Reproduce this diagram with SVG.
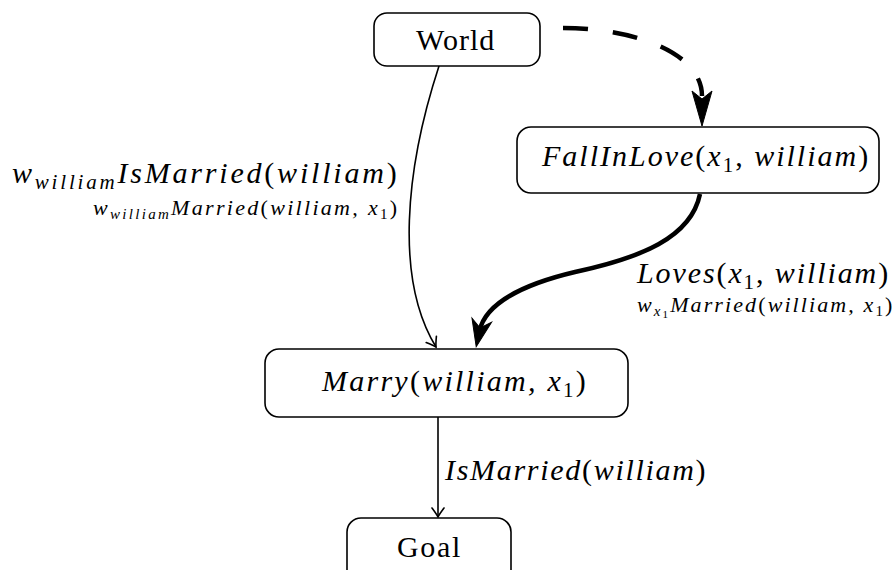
<svg xmlns="http://www.w3.org/2000/svg" width="896" height="570" viewBox="0 0 896 570" font-family="Liberation Serif">
<style>
.box{fill:#fff;stroke:#000;stroke-width:1.6}
.thin{fill:none;stroke:#000;stroke-width:1.6}
.thick{fill:none;stroke:#000;stroke-width:4.5}
.dash{fill:none;stroke:#000;stroke-width:4.5;stroke-dasharray:25 25}
</style>
<defs>
<marker id="to" markerUnits="userSpaceOnUse" viewBox="-12 -8 14 16" markerWidth="14" markerHeight="16" refX="0" refY="0" orient="auto">
<path d="M-9,-6 Q-3,-1.5 0,0 Q-3,1.5 -9,6" fill="none" stroke="#000" stroke-width="1.6" stroke-linecap="round"/>
</marker>
<marker id="stk" markerUnits="userSpaceOnUse" viewBox="-30 -12 32 24" markerWidth="32" markerHeight="24" refX="-16" refY="0" orient="auto">
<path d="M0,0 L-27,-10 L-19,0 L-27,10 Z" fill="#000" stroke="#000" stroke-width="1"/>
</marker>
<marker id="stkd" markerUnits="userSpaceOnUse" viewBox="-38 -12 40 24" markerWidth="40" markerHeight="24" refX="-30" refY="0" orient="auto">
<path d="M0,0 L-35,-10 L-27,0 L-35,10 Z" fill="#000" stroke="#000" stroke-width="1"/>
</marker>
</defs>

<g id="connectors">
<path id="e-world-marry" class="thin" d="M439,66 C405,170 395,280 436,347" marker-end="url(#to)"/>
<path id="e-world-fall" class="dash" d="M563,28 C632,28 702,52 702,96" marker-end="url(#stkd)"/>
<path id="e-fall-marry" class="thick" d="M700,194 C691,238 640,258 575,272 C520,285 485,305 479.5,331" marker-end="url(#stk)"/>
<path id="e-marry-goal" class="thin" d="M438,417 L438,517" marker-end="url(#to)"/>
</g>

<g id="labels">
<text font-family="Liberation Serif" font-size="30" letter-spacing="2.8" x="12" y="183"><tspan font-style="italic">w</tspan><tspan font-style="italic" font-size="21" dy="6">william</tspan><tspan font-style="italic" dy="-6">IsMarried</tspan>(<tspan font-style="italic">william</tspan>)</text>
<text font-family="Liberation Serif" font-size="22" letter-spacing="2.3" x="93" y="215"><tspan font-style="italic">w</tspan><tspan font-style="italic" font-size="15" dy="4">william</tspan><tspan font-style="italic" dy="-4">Married</tspan>(<tspan font-style="italic">william, x</tspan><tspan font-size="15" dy="4">1</tspan><tspan dy="-4">)</tspan></text>
<text font-family="Liberation Serif" font-size="30" letter-spacing="1.9" x="637" y="283"><tspan font-style="italic">Loves</tspan>(<tspan font-style="italic">x</tspan><tspan font-size="21" dy="6">1</tspan><tspan dy="-6">, </tspan><tspan font-style="italic">william</tspan>)</text>
<text font-family="Liberation Serif" font-size="22" letter-spacing="2.1" x="637" y="312"><tspan font-style="italic">w</tspan><tspan font-style="italic" font-size="15" dy="4">x</tspan><tspan font-size="11" dy="2">1</tspan><tspan font-style="italic" dy="-6">Married</tspan>(<tspan font-style="italic">william, x</tspan><tspan font-size="15" dy="4">1</tspan><tspan dy="-4">)</tspan></text>
<text font-family="Liberation Serif" font-size="30" letter-spacing="1.7" x="445" y="480"><tspan font-style="italic">IsMarried</tspan>(<tspan font-style="italic">william</tspan>)</text>
</g>

<g id="n-world">
<rect class="box" x="374" y="13" width="166" height="53" rx="13"/>
<text font-family="Liberation Serif" font-size="30" letter-spacing="1" x="416" y="50">World</text>
</g>
<g id="n-fall">
<rect class="box" x="517" y="127" width="362" height="66" rx="14"/>
<text font-family="Liberation Serif" font-size="30" letter-spacing="2" x="542" y="166"><tspan font-style="italic">FallInLove</tspan>(<tspan font-style="italic">x</tspan><tspan font-size="21" dy="6">1</tspan><tspan dy="-6">, </tspan><tspan font-style="italic">william</tspan>)</text>
</g>
<g id="n-marry">
<rect class="box" x="265" y="349" width="363" height="68" rx="14"/>
<text font-family="Liberation Serif" font-size="30" letter-spacing="2.25" x="322" y="391"><tspan font-style="italic">Marry</tspan>(<tspan font-style="italic">william, x</tspan><tspan font-size="21" dy="6">1</tspan><tspan dy="-6">)</tspan></text>
</g>
<g id="n-goal">
<rect class="box" x="347" y="518" width="164" height="70" rx="14"/>
<text font-family="Liberation Serif" font-size="30" letter-spacing="1.7" x="397" y="557">Goal</text>
</g>
</svg>
